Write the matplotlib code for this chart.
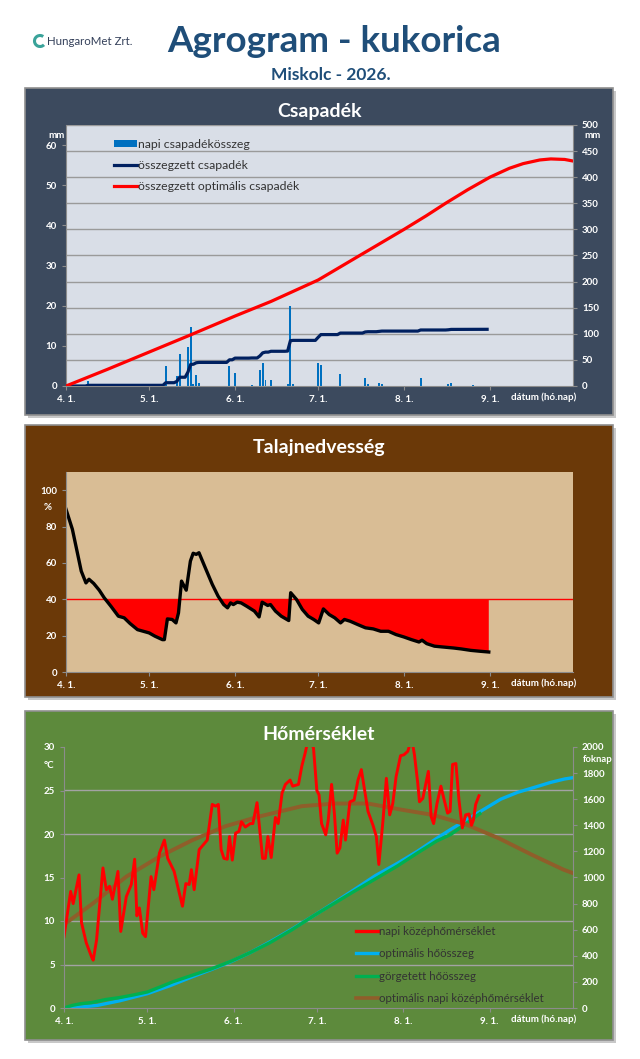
import numpy as np
import matplotlib
matplotlib.use('Agg')
import matplotlib.pyplot as plt
from matplotlib.patches import Rectangle, Arc, Patch
from matplotlib.lines import Line2D
from matplotlib.ticker import MultipleLocator

plt.rcParams['font.family'] = ['Lato', 'DejaVu Sans']

W, H = 640, 1059

# x axis: days counted from April 1 (day 0) to October 1 (day 183)
month_days = [0, 30, 61, 91, 122, 153]
month_labels = ['4. 1.', '5. 1.', '6. 1.', '7. 1.', '8. 1.', '9. 1.']
x_end = 183
obs_days = 153

# --- Csapadék (precipitation) ---
rain_day = [8, 36, 40, 41, 44, 45, 46, 47, 48, 59, 61, 67, 70, 71, 72, 74,
            80, 81, 82, 91, 92, 99, 108, 109, 113, 114, 128, 138, 139, 147]
rain_mm = [1.3, 5.0, 2.5, 8.0, 9.7, 14.8, 0.4, 2.8, 0.7, 5.0, 3.2, 0.3, 4.0, 5.8, 1.4, 1.6,
           0.4, 20.0, 0.5, 5.8, 5.3, 2.9, 2.1, 0.5, 0.7, 0.5, 2.1, 0.4, 0.7, 0.2]
opt_rain_day = [0, 15, 30, 45, 61, 74, 91, 106, 122, 130, 137, 145, 153, 160, 165,
                171, 175, 180, 183]
opt_rain_mm = [0, 32, 65, 98, 134, 162, 203, 250, 300, 326, 350, 376, 400, 417, 426,
               433, 435, 434, 431]

# --- Talajnedvesség (soil moisture, %) ---
soil_day = [0, 2.3, 4.1, 5.5, 7.2, 8.3, 10, 12, 13.8, 16.2,
            18.9, 21, 23.1, 25.8, 27.9, 30, 32.1, 34.8, 35.5, 36.6,
            38.3, 39.7, 40.6, 41.7, 43.4, 44.9, 45.9, 47, 48, 50,
            52.8, 54.9, 56.9, 58.3, 59.4, 60.4, 61.8, 63.2, 65.2, 68,
            69.7, 70.8, 72.8, 73.8, 75.6, 77.7, 80.4, 81.1, 83.2, 85.3,
            87.4, 89.4, 91.2, 92.9, 95, 97, 99.1, 100.5, 102.6, 105.3,
            108.1, 110.9, 113.6, 116.4, 119.1, 121.9, 124.7, 127.4, 128.5, 130.2,
            133, 135.7, 139.9, 142.6, 146.1, 149.5, 152.6]
soil_pct = [89.5, 78.5, 65.6, 55.5, 49, 51, 48.7, 45, 40.8, 36.2,
            30.7, 29.8, 26.7, 23.3, 22.4, 21.5, 19.7, 17.8, 17.8, 29.2,
            28.9, 27, 32.5, 50, 45, 61, 65.3, 64.7, 65.6, 58.3,
            48.2, 41.7, 37.1, 35.3, 38, 37.1, 38.4, 38, 36.2, 33.5,
            30.3, 38.4, 36.6, 37.1, 33.5, 30.7, 28.3, 43.6, 39.9, 34.4,
            30.7, 28.9, 27, 34.7, 31.6, 29.8, 27, 28.9, 27.9, 26.1,
            24.3, 23.7, 22.4, 22.4, 20.6, 19.3, 17.8, 16.5, 17.5, 15.6,
            14.2, 13.8, 13.2, 12.7, 11.9, 11.4, 11]
soil_limit = 40

# --- Hőmérséklet (temperature) ---
temp_day = [0, 2.4, 3.3, 5.4, 6.3, 8, 10, 10.5, 11.7, 14,
            15.2, 16.4, 17.4, 19.4, 20.4, 22.4, 24.2, 25.4, 26.2, 27.1,
            28.3, 29.3, 31.3, 32.3, 34.3, 36.1, 37.3, 39.6, 42.6, 43.8,
            45, 45.8, 46.8, 48.6, 51.5, 53.3, 54.5, 55.5, 56.5, 57.5,
            58.7, 59.5, 60.5, 61.7, 62.9, 63.8, 65.2, 67, 67.9, 69.4,
            71.4, 72.4, 73.3, 74.5, 76, 77, 78.4, 79.6, 81.3, 82.2,
            84.3, 85.5, 86.7, 87.9, 89.7, 90.9, 91.7, 92.6, 94.1, 95,
            96.2, 97.2, 98.2, 99.2, 100.4, 101.2, 102.8, 104.3, 105.7, 106.9,
            108.1, 109.3, 111.1, 112.3, 113.2, 114.7, 115.9, 117.1, 118.2, 119.4,
            121, 122.2, 123.6, 125, 126, 127.2, 127.8, 129, 131, 132,
            132.9, 134.1, 135.5, 136.7, 137.9, 138.8, 139.7, 140.9, 142, 143.2,
            144.4, 145.6, 146.5, 147.2, 148, 149.2]
temp_c = [8.2, 13.4, 12.0, 15.3, 9.8, 7.5, 5.8, 5.5, 7.8, 16.1,
          13.6, 14.0, 12.5, 15.7, 8.8, 12.8, 14.2, 17.1, 10.6, 11.5,
          8.6, 8.2, 15.1, 13.6, 17.8, 19.3, 17.2, 15.7, 11.7, 14.3,
          14.2, 15.9, 13.6, 18.2, 19.3, 23.4, 23.2, 23.4, 18.2, 17.2,
          17.1, 19.7, 17.0, 20.1, 20.3, 21.4, 20.8, 21.2, 21.2, 23.6,
          17.2, 17.2, 19.7, 17.3, 21.9, 21.2, 24.7, 25.7, 26.2, 25.5,
          25.7, 27.8, 29.3, 31.0, 29.9, 25.0, 24.5, 21.2, 19.9, 21.6,
          25.7, 22.4, 17.8, 18.4, 21.6, 19.3, 23.7, 23.9, 26.2, 27.4,
          25.0, 22.6, 21.0, 19.7, 16.5, 21.6, 26.4, 22.2, 23.5, 26.6,
          29.0, 29.1, 29.5, 31.0, 29.1, 25.8, 23.7, 24.1, 27.2, 22.0,
          21.2, 23.5, 25.5, 23.9, 22.4, 22.6, 28.0, 28.1, 23.9, 20.7,
          22.2, 22.3, 21.0, 21.6, 23.4, 24.4]
opt_temp_day = [0, 10.5, 22.4, 34.3, 46.2, 58.1, 70, 85.5, 97.4, 109.3,
                121.2, 132.5, 144.5, 156.4, 168.3, 179.6, 183]
opt_temp_c = [9.6, 12.05, 15.1, 17.4, 19.3, 20.9, 22.0, 23.2, 23.5, 23.5,
              22.8, 22.2, 21.1, 19.5, 17.6, 15.9, 15.5]
opt_heat_day = [0, 5, 12, 20, 30, 38, 46, 53, 60, 67, 74, 82, 90, 97, 104,
                112, 120, 127, 134, 139, 149, 157, 163, 169, 175, 180, 183]
opt_heat = [0, 5, 20, 55, 110, 170, 238, 295, 355, 425, 506, 605, 710, 805, 902,
            1015, 1110, 1200, 1300, 1368, 1497, 1600, 1652, 1690, 1729, 1755, 1765]
rolled_heat_day = [0, 3, 6, 10, 15, 20, 25, 30, 35, 39, 46, 53, 60, 67, 74, 82,
                   90, 97, 104, 112, 120, 127, 134, 139, 145, 149.5]
rolled_heat = [0, 20, 33, 42, 65, 80, 100, 123, 165, 200, 250, 300, 358, 425, 500, 600,
               710, 800, 890, 990, 1090, 1187, 1280, 1329, 1420, 1489]


def px_rect(x0, y0, x1, y1):
    return [x0 / W, 1 - y1 / H, (x1 - x0) / W, (y1 - y0) / H]


def panel_box(fig, x0, y0, x1, y1, color, title, title_y):
    fig.add_artist(Rectangle((x0 / W + 0.004, 1 - (y1 + 3) / H), (x1 - x0) / W, (y1 - y0) / H,
                             transform=fig.transFigure, facecolor='#c8c8c8',
                             edgecolor='none', zorder=-6))
    fig.add_artist(Rectangle((x0 / W, 1 - y1 / H), (x1 - x0) / W, (y1 - y0) / H,
                             transform=fig.transFigure, facecolor=color,
                             edgecolor='#8f8f8f', lw=1.2, zorder=-5))
    fig.text((x0 + x1) / 2 / W, 1 - title_y / H, title, ha='center', va='center',
             color='white', fontsize=14, fontweight='bold')


def px_text(fig, x, y, s, **kw):
    fig.text(x / W, 1 - y / H, s, **kw)


def style_axes(ax, facecolor):
    ax.set_facecolor(facecolor)
    ax.set_xlim(0, x_end)
    ax.set_xticks(month_days)
    ax.set_xticklabels(month_labels)
    ax.spines['top'].set_visible(False)
    ax.spines['right'].set_visible(False)
    for s in ['left', 'bottom']:
        ax.spines[s].set_color('#8c8c8c')
    ax.tick_params(colors='white', labelsize=7, length=3, width=0.8)
    ax.tick_params(axis='both', color='#8c8c8c')
    for lab in ax.get_xticklabels() + ax.get_yticklabels():
        lab.set_fontweight('bold')
    ax.annotate('dátum (hó.nap)', xy=(1.0, 0), xycoords='axes fraction',
                xytext=(2, -5), textcoords='offset points', ha='right', va='top',
                color='white', fontsize=7, fontweight='bold')


def style_right(ax2):
    ax2.spines['right'].set_visible(True)
    ax2.spines['right'].set_color('#8c8c8c')
    for s in ['top', 'left', 'bottom']:
        ax2.spines[s].set_visible(False)
    ax2.tick_params(axis='y', colors='white', labelsize=7, length=3, width=0.8)
    ax2.tick_params(axis='y', color='#8c8c8c')
    for lab in ax2.get_yticklabels():
        lab.set_fontweight('bold')


fig = plt.figure(figsize=(W / 100, H / 100), dpi=100)
fig.patch.set_facecolor('white')

# header
fig.add_artist(Arc((40 / W, 1 - 41 / H), 11 / W, 11 / H, theta1=40, theta2=330,
                   transform=fig.transFigure, color='#3aa39a', lw=2.2))
px_text(fig, 47, 45, 'HungaroMet Zrt.', fontsize=8.3, color='#34405a', va='baseline')
px_text(fig, 334, 52, 'Agrogram - kukorica', fontsize=26.5, fontweight='bold',
        color='#1f4e79', ha='center', va='baseline')
px_text(fig, 331, 80, 'Miskolc - 2026.', fontsize=12.5, fontweight='bold',
        color='#1f4e79', ha='center', va='baseline')

# ---------------- panel 1: Csapadék ----------------
panel_box(fig, 25, 88, 613, 415, '#3c4a5e', 'Csapadék', 112)
ax1 = fig.add_axes(px_rect(66, 125, 573, 386))
style_axes(ax1, '#d9dee7')
ax1.set_ylim(0, 65)
ax1.set_yticks(range(0, 61, 10))
for lab in ax1.get_yticklabels():
    lab.set_fontweight('bold')
ax1.yaxis.set_minor_locator(MultipleLocator(6.5))
ax1.tick_params(which='minor', length=0)
ax1.grid(which='minor', axis='y', color='#9a9a9a', lw=1)
ax1.set_axisbelow(True)
ax1.bar(rain_day, rain_mm, width=0.7, color='#0070c0', zorder=2)

ax1b = ax1.twinx()
ax1b.set_ylim(0, 500)
ax1b.set_yticks(range(0, 501, 50))
style_right(ax1b)
rain_daily = np.zeros(obs_days)
rain_daily[rain_day] = rain_mm
ax1b.plot(np.arange(obs_days), np.cumsum(rain_daily), color='#002060', lw=2.3)
ax1b.plot(opt_rain_day, opt_rain_mm, color='#ff0000', lw=2.3)
ax1b.set_xlim(0, x_end)
px_text(fig, 48, 136, 'mm', fontsize=7, color='white', fontweight='bold', va='center')
px_text(fig, 584, 135, 'mm', fontsize=7, color='white', fontweight='bold', va='center')

h1 = [Patch(facecolor='#0070c0'),
      Line2D([], [], color='#002060', lw=2.3),
      Line2D([], [], color='#ff0000', lw=2.3)]
ax1b.legend(h1, ['napi csapadékösszeg', 'összegzett csapadék', 'összegzett optimális csapadék'],
            loc='upper left', bbox_to_anchor=(0.075, 0.985), frameon=False, fontsize=8.8,
            labelcolor='#333333', handlelength=1.9, handleheight=0.6, handletextpad=0.1,
            labelspacing=0.85, borderpad=0.3)

# ---------------- panel 2: Talajnedvesség ----------------
panel_box(fig, 25, 425, 613, 697, '#6b3908', 'Talajnedvesség', 448)
ax2 = fig.add_axes(px_rect(66, 472, 573, 672))
style_axes(ax2, '#d9bd95')
ax2.set_ylim(0, 110)
ax2.set_yticks(range(0, 101, 20))
for lab in ax2.get_yticklabels():
    lab.set_fontweight('bold')
soil_x = np.array(soil_day)
soil_y = np.array(soil_pct)
ax2.fill_between(soil_x, soil_y, soil_limit, where=soil_y < soil_limit,
                 interpolate=True, color='#ff0000', lw=0)
ax2.axhline(soil_limit, color='#ff0000', lw=1)
ax2.plot(soil_x, soil_y, color='black', lw=2.4)
px_text(fig, 44, 507, '%', fontsize=7, color='white', fontweight='bold', va='center')

# ---------------- panel 3: Hőmérséklet ----------------
panel_box(fig, 25, 711, 613, 1040, '#5d8a3c', 'Hőmérséklet', 735)
ax3 = fig.add_axes(px_rect(64, 747, 573, 1008))
style_axes(ax3, '#e2eddb')
ax3.set_ylim(0, 30)
ax3.set_yticks(range(0, 31, 5))
for lab in ax3.get_yticklabels():
    lab.set_fontweight('bold')

ax3b = ax3.twinx()
ax3b.set_facecolor('#e2eddb')
ax3.set_zorder(ax3b.get_zorder() + 1)
ax3.patch.set_visible(False)
ax3b.set_ylim(0, 2000)
ax3b.set_yticks(range(0, 2001, 200))
ax3b.yaxis.set_minor_locator(MultipleLocator(2000 / 6))
ax3b.tick_params(which='minor', length=0)
ax3b.grid(which='minor', axis='y', color='#a3a3a3', lw=1)
style_right(ax3b)
ax3b.set_xlim(0, x_end)
ax3b.plot(opt_heat_day, opt_heat, color='#00b0f0', lw=2.4)
ax3b.plot(rolled_heat_day, rolled_heat, color='#00b050', lw=2.4)

ax3.plot(opt_temp_day, opt_temp_c, color='#8f5e2a', lw=2.8, solid_capstyle='round')
ax3.plot(temp_day, temp_c, color='#ff0000', lw=2.1)
px_text(fig, 44, 765, '°C', fontsize=7, color='white', fontweight='bold', va='center')
px_text(fig, 583, 760, 'foknap', fontsize=6.8, color='white', fontweight='bold', va='center')

h3 = [Line2D([], [], color='#ff0000', lw=2.4),
      Line2D([], [], color='#00b0f0', lw=2.4),
      Line2D([], [], color='#00b050', lw=2.4),
      Line2D([], [], color='#8f5e2a', lw=2.6)]
ax3.legend(h3, ['napi középhőmérséklet', 'optimális hőösszeg', 'görgetett hőösszeg',
                'optimális napi középhőmérséklet'],
           loc='upper left', bbox_to_anchor=(0.555, 0.35), frameon=False, fontsize=8.3,
           labelcolor='#333333', handlelength=1.9, handletextpad=0.1, labelspacing=1.0,
           borderpad=0.3)

fig.savefig('out.png', dpi=100, facecolor='white')
